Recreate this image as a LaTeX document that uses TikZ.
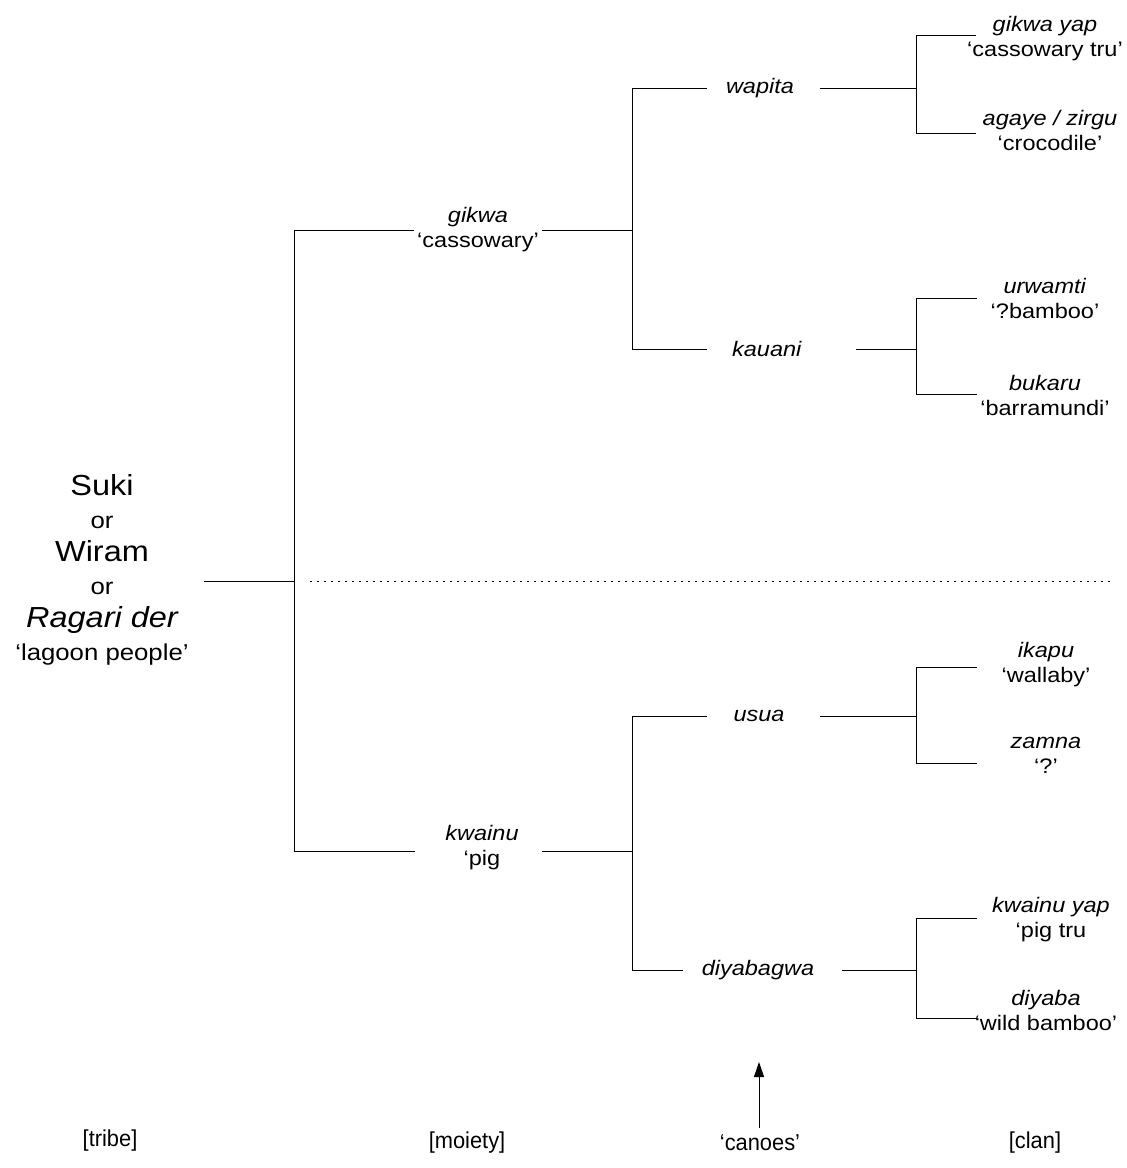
\documentclass[tikz,border=0pt]{standalone}
\usepackage{fontspec}
\setmainfont[FakeStretch=1.12]{Liberation Sans}
\usetikzlibrary{arrows.meta}
\begin{document}
\begin{tikzpicture}[x=1pt,y=-1pt,
  lbl/.style={font=\fontsize{21}{25}\selectfont, align=center, inner sep=0pt},
  big/.style={font=\fontsize{23}{33}\selectfont, align=center, inner sep=0pt},
  foot/.style={font=\fontsize{23}{25}\selectfont\addfontfeature{FakeStretch=0.95}, align=center, inner sep=0pt},
  tree/.style={line width=1pt, black},
  sep/.style={line width=1pt, dash pattern=on 2pt off 5pt},
  arr/.style={line width=1pt, -{Triangle[length=15pt,width=10pt]}}
]
\useasboundingbox (0,0) rectangle (1127,1168);

% tribe
\node[big] (tribe) at (102,570) {{\fontsize{29}{33}\selectfont Suki}\\or\\{\fontsize{29}{33}\selectfont Wiram}\\or\\{\fontsize{29}{33}\selectfont\itshape Ragari der}\\‘lagoon people’};

\coordinate (t0) at (204,581);
\coordinate (tJ) at (294,581);
\coordinate (tTop) at (294,230);
\coordinate (tBot) at (294,851);
\draw[tree] (t0) -- (tJ);
\draw[tree] (tTop) -- (tBot);

% moieties
\node[lbl] (gikwa) at (478,230) {\textit{gikwa}\\‘cassowary’};
\coordinate (gL) at (414,230);
\coordinate (gR) at (542,230);
\coordinate (gJ) at (632,230);
\draw[tree] (tTop) -- (gL);
\draw[tree] (gR) -- (gJ);

\node[lbl] (kwainu) at (482,848) {\textit{kwainu}\\‘pig};
\coordinate (kwL) at (415,851);
\coordinate (kwR) at (542,851);
\coordinate (kwJ) at (632,851);
\draw[tree] (tBot) -- (kwL);
\draw[tree] (kwR) -- (kwJ);

% canoes, upper
\coordinate (mTop) at (632,88);
\coordinate (mBot) at (632,349);
\draw[tree] (mTop) -- (mBot);

\node[lbl] (wapita) at (760,88) {\textit{wapita}};
\coordinate (wL) at (707,88);
\coordinate (wR) at (820,88);
\coordinate (wJ) at (916,88);
\draw[tree] (mTop) -- (wL);
\draw[tree] (wR) -- (wJ);

\node[lbl] (kauani) at (767,349) {\textit{kauani}};
\coordinate (kL) at (707,349);
\coordinate (kR) at (856,349);
\coordinate (kJ) at (916,349);
\draw[tree] (mBot) -- (kL);
\draw[tree] (kR) -- (kJ);

% canoes, lower
\coordinate (m2Top) at (632,716);
\coordinate (m2Bot) at (632,970);
\draw[tree] (m2Top) -- (m2Bot);

\node[lbl] (usua) at (759,716) {\textit{usua}};
\coordinate (uL) at (707,716);
\coordinate (uR) at (820,716);
\coordinate (uJ) at (916,716);
\draw[tree] (m2Top) -- (uL);
\draw[tree] (uR) -- (uJ);

\node[lbl] (diya) at (758,970) {\textit{diyabagwa}};
\coordinate (dL) at (683,970);
\coordinate (dR) at (842,970);
\coordinate (dJ) at (916,970);
\draw[tree] (m2Bot) -- (dL);
\draw[tree] (dR) -- (dJ);

% clans
\coordinate (c1t) at (916,35);  \coordinate (c1te) at (976,35);
\coordinate (c1b) at (916,133); \coordinate (c1be) at (976,133);
\draw[tree] (c1te) -- (c1t) -- (c1b) -- (c1be);
\node[lbl] (gyap) at (1045,39) {\textit{gikwa yap}\\‘cassowary tru’};
\node[lbl] (agaye) at (1050,130) {\textit{agaye / zirgu}\\‘crocodile’};

\coordinate (c2t) at (916,298); \coordinate (c2te) at (977,298);
\coordinate (c2b) at (916,394); \coordinate (c2be) at (977,394);
\draw[tree] (c2te) -- (c2t) -- (c2b) -- (c2be);
\node[lbl] (urw) at (1045,298) {\textit{urwamti}\\‘?bamboo’};
\node[lbl] (buk) at (1045,395) {\textit{bukaru}\\‘barramundi’};

\coordinate (c3t) at (916,667); \coordinate (c3te) at (977,667);
\coordinate (c3b) at (916,763); \coordinate (c3be) at (977,763);
\draw[tree] (c3te) -- (c3t) -- (c3b) -- (c3be);
\node[lbl] (ika) at (1046,665) {\textit{ikapu}\\‘wallaby’};
\node[lbl] (zam) at (1046,755) {\textit{zamna}\\‘?’};

\coordinate (c4t) at (916,918); \coordinate (c4te) at (977,918);
\coordinate (c4b) at (916,1018); \coordinate (c4be) at (977,1018);
\draw[tree] (c4te) -- (c4t) -- (c4b) -- (c4be);
\node[lbl] (kyap) at (1051,920) {\textit{kwainu yap}\\‘pig tru};
\node[lbl] (diyaba) at (1046,1010) {\textit{diyaba}\\‘wild bamboo’};

% dotted separator
\coordinate (s0) at (310,581);
\coordinate (s1) at (1110,581);
\draw[sep] (s0) -- (s1);

% bottom labels
\node[foot] (ltribe) at (110,1141) {[tribe]};
\node[foot] (lmoiety) at (467,1143) {[moiety]};
\node[foot] (lcanoes) at (760,1143) {‘canoes’};
\node[foot] (lclan) at (1035,1143) {[clan]};

\coordinate (aS) at (759,1128);
\coordinate (aE) at (759,1062);
\draw[arr] (aS) -- (aE);
\end{tikzpicture}
\end{document}
